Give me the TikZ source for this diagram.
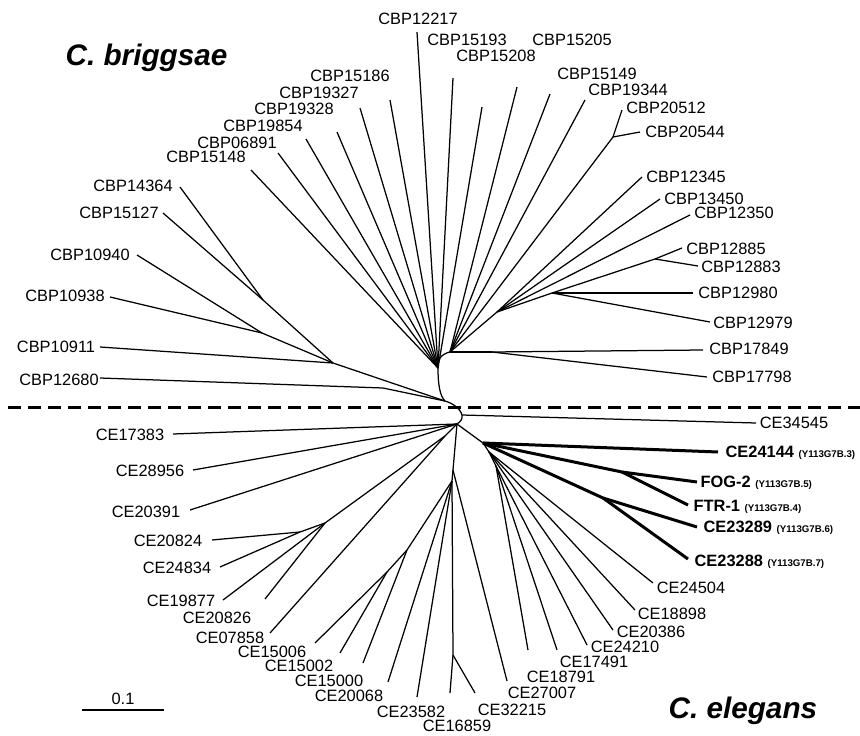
\documentclass[tikz,border=0pt]{standalone}
\usepackage{fontspec}
\setmainfont{Liberation Sans}
\newcommand\seqid[1]{{\fontsize{9.7}{11}\selectfont(#1)}}

\begin{document}
\begin{tikzpicture}[x=1pt, y=-1pt, line width=1.25pt,
    lbl/.style={inner sep=0pt, font=\fontsize{16.4}{18}\selectfont},
    bld/.style={lbl, anchor=west, font=\fontsize{16.4}{18}\selectfont\bfseries},
    fat/.style={line width=3pt},
    title/.style={inner sep=0pt, anchor=base west, font=\fontsize{29.7}{32}\selectfont\bfseries\itshape}]
  \useasboundingbox (0,0) rectangle (860,736);

  \node[title] (Cb) at (65,65)  {C. briggsae};
  \node[title] (Ce) at (668,718) {C. elegans};

  % inner nodes
  \coordinate (E)   at (450,352);
  \coordinate (F)   at (438,368);
  \coordinate (G)   at (445,401);
  \coordinate (H)   at (462,415);
  \coordinate (I)   at (457,424);
  \coordinate (R1)  at (613,137);
  \coordinate (R2)  at (497,312);
  \coordinate (R3)  at (492,352);
  \coordinate (R4)  at (552,293);
  \coordinate (R5)  at (655,259);
  \coordinate (A)   at (383,388);
  \coordinate (B)   at (333,363);
  \coordinate (C)   at (263,300);
  \coordinate (D)   at (262,333);
  \coordinate (O)   at (445,436);
  \coordinate (N1)  at (325,523);
  \coordinate (N1a) at (300,532);
  \coordinate (K)   at (453,470);
  \coordinate (L)   at (452,481);
  \coordinate (M)   at (407,550);
  \coordinate (M2)  at (387,572);
  \coordinate (Q)   at (453,655);
  \coordinate (J)   at (483,443);
  \coordinate (J2)  at (489,452);
  \coordinate (J3)  at (496,466);
  \coordinate (P1)  at (622,472);
  \coordinate (P2)  at (603,498);

  % briggsae
  \node[lbl] (CBP12217) at (418,19)  {CBP12217};
  \node[lbl] (CBP15193) at (467,40)  {CBP15193};
  \node[lbl] (CBP15205) at (572,40)  {CBP15205};
  \node[lbl] (CBP15208) at (496,56)  {CBP15208};
  \node[lbl] (CBP15149) at (597,74)  {CBP15149};
  \node[lbl] (CBP19344) at (628,90)  {CBP19344};
  \node[lbl] (CBP20512) at (666,108) {CBP20512};
  \node[lbl] (CBP20544) at (685,132) {CBP20544};
  \node[lbl] (CBP12345) at (686,177) {CBP12345};
  \node[lbl] (CBP13450) at (704,199) {CBP13450};
  \node[lbl] (CBP12350) at (734,213) {CBP12350};
  \node[lbl] (CBP12885) at (726,249) {CBP12885};
  \node[lbl] (CBP12883) at (741,267) {CBP12883};
  \node[lbl] (CBP12980) at (738,293) {CBP12980};
  \node[lbl] (CBP12979) at (753,323) {CBP12979};
  \node[lbl] (CBP17849) at (749,349) {CBP17849};
  \node[lbl] (CBP17798) at (752,377) {CBP17798};
  \node[lbl] (CBP15186) at (350,76)  {CBP15186};
  \node[lbl] (CBP19327) at (319,93)  {CBP19327};
  \node[lbl] (CBP19328) at (294,109) {CBP19328};
  \node[lbl] (CBP19854) at (263,126) {CBP19854};
  \node[lbl] (CBP06891) at (237,143) {CBP06891};
  \node[lbl] (CBP15148) at (206,157) {CBP15148};
  \node[lbl] (CBP14364) at (133,186) {CBP14364};
  \node[lbl] (CBP15127) at (119,213) {CBP15127};
  \node[lbl] (CBP10940) at (90,255)  {CBP10940};
  \node[lbl] (CBP10938) at (65,296)  {CBP10938};
  \node[lbl] (CBP10911) at (56,347)  {CBP10911};
  \node[lbl] (CBP12680) at (59,380)  {CBP12680};

  \coordinate (t12217) at (417,32);
  \coordinate (t15193) at (453,78);
  \coordinate (t15208) at (482,107);
  \coordinate (t15205) at (517,87);
  \coordinate (t15149) at (550,94);
  \coordinate (t19344) at (585,100);
  \coordinate (t20512) at (622,110);
  \coordinate (t20544) at (640,132);
  \coordinate (t12345) at (642,177);
  \coordinate (t13450) at (660,199);
  \coordinate (t12350) at (690,215);
  \coordinate (t12885) at (682,248);
  \coordinate (t12883) at (698,266);
  \coordinate (t12980) at (693,293);
  \coordinate (t12979) at (710,322);
  \coordinate (t17849) at (703,350);
  \coordinate (t17798) at (707,377);
  \coordinate (t15186) at (390,100);
  \coordinate (t19327) at (360,108);
  \coordinate (t19328) at (337,132);
  \coordinate (t19854) at (306,139);
  \coordinate (t06891) at (278,153);
  \coordinate (t15148) at (251,170);
  \coordinate (t14364) at (180,187);
  \coordinate (t15127) at (163,213);
  \coordinate (t10940) at (137,255);
  \coordinate (t10938) at (110,297);
  \coordinate (t10911) at (100,347);
  \coordinate (t12680) at (100,378);

  % elegans
  \node[lbl] (CE17383) at (130,435) {CE17383};
  \node[lbl] (CE28956) at (150,471) {CE28956};
  \node[lbl] (CE20391) at (146,512) {CE20391};
  \node[lbl] (CE20824) at (168,541) {CE20824};
  \node[lbl] (CE24834) at (177,568) {CE24834};
  \node[lbl] (CE19877) at (181,601) {CE19877};
  \node[lbl] (CE20826) at (217,618) {CE20826};
  \node[lbl] (CE07858) at (230,638) {CE07858};
  \node[lbl] (CE15006) at (272,652) {CE15006};
  \node[lbl] (CE15002) at (299,666) {CE15002};
  \node[lbl] (CE15000) at (329,681) {CE15000};
  \node[lbl] (CE20068) at (349,696) {CE20068};
  \node[lbl] (CE23582) at (411,712) {CE23582};
  \node[lbl] (CE16859) at (457,726) {CE16859};
  \node[lbl] (CE32215) at (512,710) {CE32215};
  \node[lbl] (CE27007) at (542,693) {CE27007};
  \node[lbl] (CE18791) at (561,677) {CE18791};
  \node[lbl] (CE17491) at (594,662) {CE17491};
  \node[lbl] (CE24210) at (625,647) {CE24210};
  \node[lbl] (CE20386) at (651,632) {CE20386};
  \node[lbl] (CE18898) at (672,614) {CE18898};
  \node[lbl] (CE24504) at (691,588) {CE24504};
  \node[lbl] (CE34545) at (794,423) {CE34545};
  \node[bld] (CE24144) at (725,453) {CE24144 \seqid{Y113G7B.3}};
  \node[bld] (FOG2)    at (700,483) {FOG-2 \seqid{Y113G7B.5}};
  \node[bld] (FTR1)    at (693,507) {FTR-1 \seqid{Y113G7B.4}};
  \node[bld] (CE23289) at (703,528) {CE23289 \seqid{Y113G7B.6}};
  \node[bld] (CE23288) at (694,562) {CE23288 \seqid{Y113G7B.7}};

  \coordinate (t17383) at (173,434);
  \coordinate (t28956) at (193,470);
  \coordinate (t20391) at (190,510);
  \coordinate (t20824) at (212,540);
  \coordinate (t24834) at (220,567);
  \coordinate (t19877) at (223,600);
  \coordinate (t20826) at (265,599);
  \coordinate (t07858) at (270,633);
  \coordinate (t15006) at (315,643);
  \coordinate (t15002) at (340,653);
  \coordinate (t15000) at (363,663);
  \coordinate (t20068) at (388,682);
  \coordinate (t23582) at (417,697);
  \coordinate (t16859) at (450,693);
  \coordinate (t32215) at (475,693);
  \coordinate (t27007) at (507,681);
  \coordinate (t18791) at (528,650);
  \coordinate (t17491) at (557,650);
  \coordinate (t24210) at (587,645);
  \coordinate (t20386) at (613,630);
  \coordinate (t18898) at (635,610);
  \coordinate (t24504) at (653,583);
  \coordinate (t34545) at (756,423);
  \coordinate (t24144) at (718,452);
  \coordinate (tFOG2)  at (697,482);
  \coordinate (tFTR1)  at (688,505);
  \coordinate (t23289) at (697,527);
  \coordinate (t23288) at (688,559);

  % backbone
  \draw (E) .. controls (441,354) and (437,360) .. (F)
            .. controls (438,385) and (440,396) .. (G)
            .. controls (452,403) and (460,408) .. (H)
            .. controls (463,419) and (460,422) .. (I);

  \path (F) edge (t12217) edge (t15193) edge (t15208) edge (t15186) edge (t19327)
            edge (t19328) edge (t19854) edge (t06891) edge (t15148)
        (E) edge (t15205) edge (t15149) edge (t19344) edge (R1) edge (R2) edge (R3)
        (R1) edge (t20512) edge (t20544)
        (R2) edge (t12345) edge (t13450) edge (t12350) edge (R4)
        (R4) edge (R5) edge (t12980) edge (t12979)
        (R5) edge (t12885) edge (t12883)
        (R3) edge (t17849) edge (t17798)
        (G) edge (A) edge (B)
        (A) edge (t12680)
        (B) edge (t10911) edge (C) edge (D)
        (C) edge (t14364) edge (t15127)
        (D) edge (t10940) edge (t10938)
        ;

  \path (H) edge (t34545)
        (I) edge (t17383) edge (t28956) edge (t20391) edge (O) edge (K) edge (J)
        (O) edge (N1) edge (t07858)
        (N1) edge (N1a) edge (t19877) edge (t20826)
        (N1a) edge (t20824) edge (t24834)
        (K) edge (t27007) edge (L)
        (L) edge (M) edge (t20068) edge (t23582) edge (Q)
        (M) edge (t15000) edge (M2)
        (M2) edge (t15006) edge (t15002)
        (Q) edge (t16859) edge (t32215)
        (J) edge (J2)
        (J2) edge (t24504) edge (t18898) edge (t20386) edge (J3)
        (J3) edge (t24210) edge (t17491) edge (t18791)
        ;

  \path[fat] (J) edge (t24144) edge (P1) edge (P2)
             (P1) edge (tFOG2) edge (tFTR1)
             (P2) edge (t23289) edge (t23288);

  % species border
  \coordinate (sepL) at (8,407.5);
  \coordinate (sepR) at (860,407.5);
  \draw[line width=3.2pt, dash pattern=on 13pt off 7pt] (sepL) -- (sepR);

  % scale
  \coordinate (sb1) at (82,710);
  \coordinate (sb2) at (164,710);
  \draw (sb1) -- (sb2);
  \node[lbl] (scale) at (123,699) {0.1};
\end{tikzpicture}
\end{document}
